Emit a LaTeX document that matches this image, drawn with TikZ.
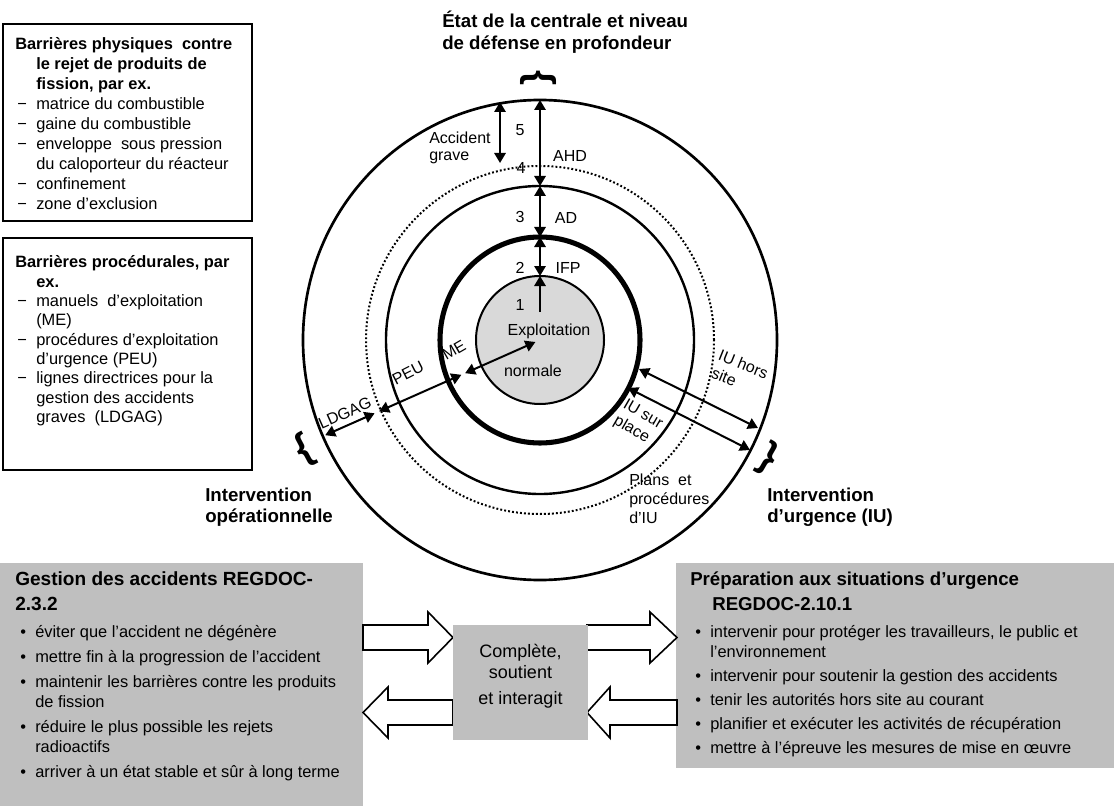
\documentclass[tikz,border=0pt]{standalone}
\usepackage{fontspec}
\setmainfont{Liberation Sans}
\usetikzlibrary{arrows.meta,calc}
\definecolor{boxgrey}{HTML}{BFBFBF}
\definecolor{coregrey}{HTML}{D9D9D9}
\newcommand{\dashit}{\makebox[15.75pt][l]{\hspace*{1.5pt}−}}
\newcommand{\hangin}{\hspace*{15.75pt}}
\newcommand{\bul}{\makebox[11.25pt][l]{•}}
\newcommand{\bhang}{\hspace*{11.25pt}}
\begin{document}
\begin{tikzpicture}[x=0.75pt,y=-0.75pt,
  tipA/.tip={Triangle[length=7.5pt,width=8.5pt]},
  dbl/.style={line width=1.5pt,tipA-tipA},
  sgl/.style={line width=1.5pt,-tipA},
  lbl/.style={font=\fontsize{12}{14}\selectfont, inner sep=0pt},
  body/.style={font=\fontsize{12.3}{15}\selectfont, align=left, inner sep=0pt, anchor=north west},
  head/.style={font=\bfseries\fontsize{14}{16.5}\selectfont, align=left, inner sep=0pt, anchor=north west},
  blk/.style={draw, line width=1.2pt, fill=white, line join=miter},
  brc/.style={font=\bfseries\fontsize{29}{30}\selectfont, inner sep=0pt},
  frame/.style={draw, line width=1.5pt}
]
\useasboundingbox (0,0) rectangle (1114,806);

% ---------- top-left boxes
\draw[frame] (3,24) rectangle (252,221);
\node[body] (phys) at (15,35) {\strut\textbf{Barrières physiques\ \ contre}\\
\hangin\textbf{le rejet de produits de}\\
\hangin\textbf{fission, par ex.}\\
\dashit matrice du combustible\\
\dashit gaine du combustible\\
\dashit enveloppe\ \ sous pression\\
\hangin du caloporteur du réacteur\\
\dashit confinement\\
\dashit zone d’exclusion};

\draw[frame] (3,238) rectangle (252,470);
\node[body, font=\fontsize{12.3}{14.5}\selectfont] (proc) at (15,254) {\strut\textbf{Barrières procédurales,\ par}\\
\hangin\textbf{ex.}\\
\dashit manuels\ \ d’exploitation\\
\hangin (ME)\\
\dashit procédures d’exploitation\\
\hangin d’urgence (PEU)\\
\dashit lignes directrices pour la\\
\hangin gestion des accidents\\
\hangin graves\ \ (LDGAG)};

% ---------- headings
\node[head] (etat) at (442,10.6) {\strut État de la centrale et niveau\\de défense en profondeur};
\node[head, font=\bfseries\fontsize{14}{15.75}\selectfont] (intop) at (205,487) {\strut Intervention\\opérationnelle};
\node[head, font=\bfseries\fontsize{14}{15.75}\selectfont] (intu) at (767,487) {\strut Intervention\\d’urgence (IU)};

% ---------- braces
\node[brc, rotate=-90] (btop) at (538,78) {\{};
\node[brc, rotate=28] (bleft) at (304,450) {\{};
\node[brc, rotate=-30] (bright) at (768,459) {\}};

% ---------- circles
\coordinate (C) at (540,340);
\draw[line width=1.5pt, fill=coregrey] (C) circle [radius=48pt];
\draw[line width=3.8pt] (C) ellipse [x radius=75pt, y radius=77.25pt];
\draw[line width=1.8pt] (C) circle [radius=115.5pt];
\draw[line width=1.5pt, dash pattern=on 1.4pt off 1.6pt] (C) circle [radius=130.5pt];
\draw[line width=2pt] (C) ellipse [x radius=177.75pt, y radius=180pt];

% ---------- vertical arrows
\coordinate (v0) at (540,100);
\coordinate (v1) at (540,186);
\coordinate (v2) at (540,237);
\coordinate (v3) at (540,276);
\coordinate (v4) at (540,312);
\draw[dbl] (v0) -- (v1);
\draw[dbl] (v1) -- (v2);
\draw[dbl] (v2) -- (v3);
\draw[sgl] (v4) -- (v3);
\coordinate (g0) at (500,102);
\coordinate (g1) at (500,163);
\draw[dbl] (g0) -- (g1);

% ---------- diagonal arrows (left)
\coordinate (d0) at (535.4,342.0);
\coordinate (d1) at (465.1,373.2);
\coordinate (d2) at (461.4,374.8);
\coordinate (d3) at (379.1,411.3);
\coordinate (d4) at (374.6,413.3);
\coordinate (d5) at (325.2,435.2);
\draw[dbl] (d0) -- (d1);
\draw[dbl] (d2) -- (d3);
\draw[dbl] (d4) -- (d5);

% ---------- diagonal arrows (right)
\coordinate (h0) at (639,369);
\coordinate (h1) at (758,428);
\coordinate (s0) at (628,388);
\coordinate (s1) at (750,450);
\draw[dbl] (h0) -- (h1);
\draw[dbl] (s0) -- (s1);

% ---------- circle labels
\node[lbl] (n5) at (520,130) {5};
\node[lbl, align=left, anchor=west, font=\fontsize{12}{12.5}\selectfont] (acc) at (429,148) {Accident\\grave};
\node[lbl] (ahd) at (570,156) {AHD};
\node[lbl] (n4) at (521,168) {4};
\node[lbl] (n3) at (520,217) {3};
\node[lbl] (ad) at (566,218) {AD};
\node[lbl] (n2) at (520,268) {2};
\node[lbl] (ifp) at (568,268) {IFP};
\node[lbl] (n1) at (520,305) {1};
\node[lbl] (expl) at (549,331) {Exploitation};
\node[lbl] (norm) at (533,371) {normale};
\node[lbl, rotate=30] (me) at (454,350) {ME};
\node[lbl, rotate=27] (peu) at (408,373) {PEU};
\node[lbl, rotate=24] (ldg) at (345,413) {LDGAG};
\node[lbl, rotate=-22, align=left] (ihs) at (740,373) {IU hors\\site};
\node[lbl, rotate=-30, align=left] (isp) at (638,423) {IU sur\\place};
\node[lbl, align=left, anchor=west, font=\fontsize{12}{14.25}\selectfont] (plans) at (629,499) {Plans\ \ et\\procédures\\d’IU};

% ---------- bottom boxes
\fill[boxgrey] (0,563) rectangle (363,806);
\fill[boxgrey] (676,563) rectangle (1114,768);
\node[head, font=\bfseries\fontsize{14.3}{18.75}\selectfont] (gtitle) at (15,567.5) {\strut Gestion des accidents REGDOC-\\2.3.2};
\node[body] (glist) at (20,623) {\strut\bul éviter\ que l'accident ne dégénère\\[3.75pt]
\bul mettre fin à la progression de l’accident\\[3.75pt]
\bul maintenir les barrières contre les produits\\
\bhang de fission\\[3.75pt]
\bul réduire le plus possible les rejets\\
\bhang radioactifs\\[3.75pt]
\bul arriver à un état stable et sûr à long terme};
\node[head, font=\bfseries\fontsize{14}{18.75}\selectfont] (ptitle) at (690,567.5) {\strut Préparation aux situations d’urgence\\
\hspace*{16.5pt}REGDOC-2.10.1};
\node[body] (plist) at (695,623) {\strut\bul intervenir pour protéger les travailleurs, le public et\\
\bhang l’environnement\\[3pt]
\bul intervenir pour soutenir la gestion des accidents\\[3pt]
\bul tenir les autorités hors site au courant\\[3pt]
\bul planifier et exécuter les activités de récupération\\[3pt]
\bul mettre à l’épreuve les mesures de mise en œuvre};

% ---------- block arrows
\draw[blk] (363,625) -- (428,625) -- (428,612) -- (453,637.5) -- (428,663) -- (428,650) -- (363,650) -- cycle;
\draw[blk] (453,700) -- (388,700) -- (388,687) -- (363,712.5) -- (388,738) -- (388,725) -- (453,725) -- cycle;
\draw[blk] (587,625) -- (650,625) -- (650,612) -- (677,637.5) -- (650,663) -- (650,650) -- (587,650) -- cycle;
\draw[blk] (677,700) -- (610,700) -- (610,687) -- (587,712.5) -- (610,738) -- (610,725) -- (677,725) -- cycle;

% ---------- centre box
\fill[boxgrey] (453,625) rectangle (588,740);
\node[align=center, inner sep=0pt, anchor=north, font=\fontsize{13.5}{15.75}\selectfont] (mid) at (520.5,643) {\strut Complète,\\soutient\\[3.75pt]et interagit};
\end{tikzpicture}
\end{document}
